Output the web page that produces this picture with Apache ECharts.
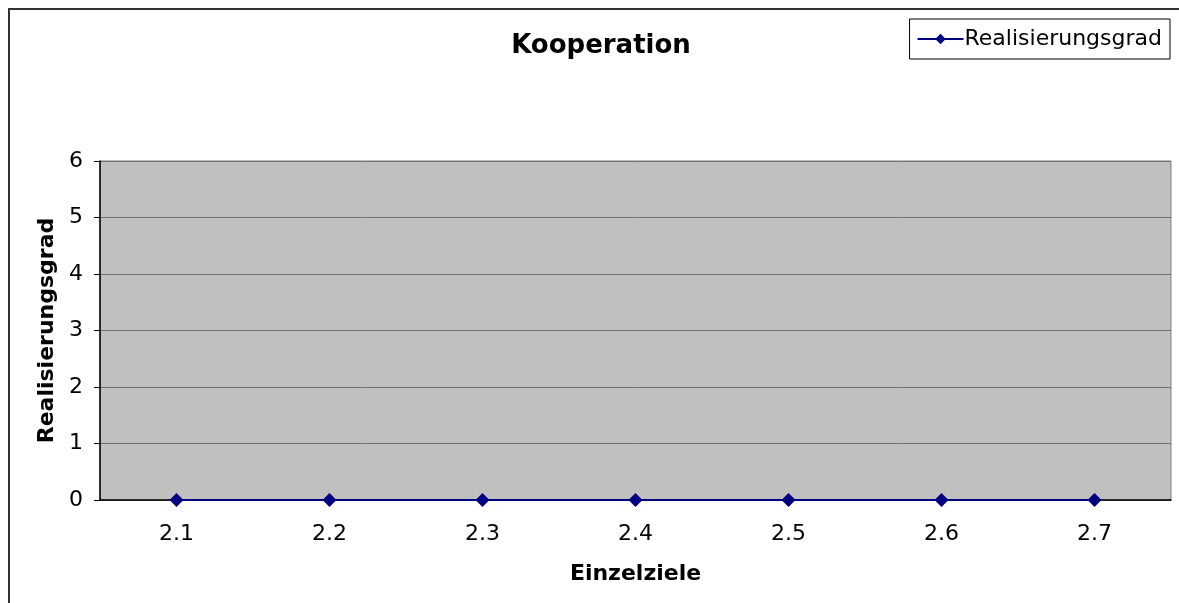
<!DOCTYPE html>
<html>
<head>
<meta charset="utf-8">
<script src="https://cdn.jsdelivr.net/npm/echarts@6/dist/echarts.min.js"></script>
<style>
  html, body { margin: 0; padding: 0; background: #fff; }
  #frame { position: absolute; left: 8px; top: 8px; width: 1171px; height: 595px;
           border-top: 2px solid #333; border-left: 2px solid #333; box-sizing: border-box; }
  #chart { position: absolute; left: 0; top: 0; width: 1179px; height: 603px; }
</style>
</head>
<body>
<div id="frame"></div>
<div id="chart"></div>
<script>
// Kategorien und Werte
const categories = ['2.1', '2.2', '2.3', '2.4', '2.5', '2.6', '2.7'];
const realisierungsgrad = [0, 0, 0, 0, 0, 0, 0];
const yTicks = [0, 1, 2, 3, 4, 5, 6];

const font = 'DejaVu Sans, Verdana, sans-serif';
const chart = echarts.init(document.getElementById('chart'), null, { renderer: 'canvas' });

chart.setOption({
  backgroundColor: 'transparent',
  animation: false,
  textStyle: { fontFamily: font, color: '#000' },
  title: {
    text: 'Kooperation',
    left: 596,
    top: 28,
    textAlign: 'center',
    textStyle: { fontFamily: font, fontSize: 26, fontWeight: 'bold', color: '#000' }
  },
  legend: {
    data: ['Realisierungsgrad'],
    right: 9,
    top: 19,
    orient: 'vertical',
    borderColor: '#000',
    borderWidth: 1,
    borderRadius: 0,
    padding: [9, 8, 9, 7],
    itemWidth: 46,
    itemHeight: 13,
    itemGap: 0,
    textStyle: { fontFamily: font, fontSize: 22, color: '#000', padding: [0, 0, 0, -4] }
  },
  grid: {
    left: 100,
    right: 8,
    top: 161,
    bottom: 103,
    show: true,
    backgroundColor: '#C0C0C0',
    borderColor: '#808080',
    borderWidth: 1
  },
  xAxis: {
    type: 'category',
    data: categories,
    boundaryGap: true,
    name: 'Einzelziele',
    nameLocation: 'middle',
    nameGap: 63,
    nameTextStyle: { fontFamily: font, fontSize: 22, fontWeight: 'bold', color: '#000' },
    axisLine: { show: true, lineStyle: { color: '#000', width: 1.5 } },
    axisTick: { show: false },
    axisLabel: { fontFamily: font, fontSize: 22, color: '#000', margin: 23 }
  },
  yAxis: {
    type: 'value',
    min: yTicks[0],
    max: yTicks[yTicks.length - 1],
    interval: 1,
    name: 'Realisierungsgrad',
    nameLocation: 'middle',
    nameGap: 39,
    nameTextStyle: { fontFamily: font, fontSize: 22, fontWeight: 'bold', color: '#000' },
    axisLine: { show: true, lineStyle: { color: '#000', width: 1.5 } },
    axisTick: { show: true, length: 6, lineStyle: { color: '#000' } },
    axisLabel: { fontFamily: font, fontSize: 22, color: '#000', margin: 17 },
    splitLine: { show: true, lineStyle: { color: '#707070', width: 1 } }
  },
  series: [{
    name: 'Realisierungsgrad',
    type: 'line',
    data: realisierungsgrad,
    symbol: 'diamond',
    symbolSize: 14,
    lineStyle: { color: '#000080', width: 2 },
    itemStyle: { color: '#000080' }
  }]
});
</script>
</body>
</html>
